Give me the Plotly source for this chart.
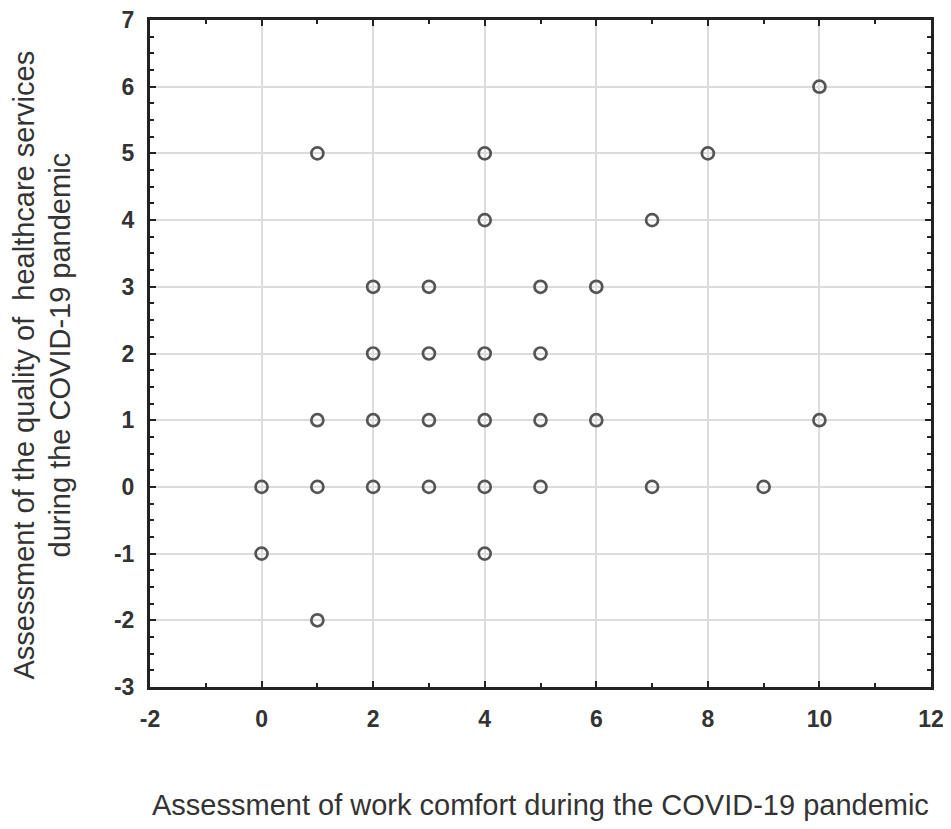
import plotly.graph_objects as go

x_comfort = [10, 1, 4, 8, 4, 7, 2, 3, 5, 6, 2, 3, 4, 5, 1, 2, 3, 4, 5, 6, 10,
             0, 1, 2, 3, 4, 5, 7, 9, 0, 4, 1]
y_quality = [6, 5, 5, 5, 4, 4, 3, 3, 3, 3, 2, 2, 2, 2, 1, 1, 1, 1, 1, 1, 1,
             0, 0, 0, 0, 0, 0, 0, 0, -1, -1, -2]

x_tick_vals = [-2, 0, 2, 4, 6, 8, 10, 12]
x_tick_text = ["-2", "0", "2", "4", "6", "8", "10", "12"]
y_tick_vals = [-3, -2, -1, 0, 1, 2, 3, 4, 5, 6, 7]
y_tick_text = ["-3", "-2", "-1", "0", "1", "2", "3", "4", "5", "6", "7"]

x_title = "Assessment of work comfort during the COVID-19 pandemic"
y_title_1 = "Assessment of the quality of  healthcare services"
y_title_2 = "during the COVID-19 pandemic"

FONT = "Liberation Sans, Arial, sans-serif"

fig = go.Figure()
fig.add_trace(go.Scatter(
    x=x_comfort, y=y_quality, mode="markers",
    marker=dict(symbol="circle-open", size=12, color="#555555",
                line=dict(width=2.7, color="#555555")),
    showlegend=False,
))

axis_common = dict(
    showline=True, linecolor="#222222", linewidth=3, mirror="allticks",
    ticks="inside", ticklen=6, tickwidth=2, tickcolor="#222222",
    showgrid=True, gridcolor="#dcdcdc", gridwidth=1.5, zeroline=False,
    automargin=False, ticklabeloverflow="allow",
    tickfont=dict(family=FONT, size=23, color="#333333", weight="bold"),
)

fig.update_layout(
    width=943, height=821,
    margin=dict(l=142, r=20, t=12, b=142, autoexpand=False),
    paper_bgcolor="white", plot_bgcolor="white",
    xaxis=dict(range=[-2, 12], tickmode="array", tickvals=x_tick_vals,
               ticktext=x_tick_text, ticklabelstandoff=9,
               minor=dict(ticks="inside", dtick=1, ticklen=4, tickwidth=2,
                          tickcolor="#222222", showgrid=False),
               **axis_common),
    yaxis=dict(range=[-3, 7], tickmode="array", tickvals=y_tick_vals,
               ticktext=y_tick_text, ticklabelstandoff=8,
               minor=dict(ticks="inside", dtick=0.25, ticklen=4, tickwidth=2,
                          tickcolor="#222222", showgrid=False),
               **axis_common),
    font=dict(family=FONT, color="#333333"),
)

fig.add_annotation(text=x_title, xref="paper", yref="paper", x=0.5, y=0,
                   yshift=-118, yanchor="middle", showarrow=False,
                   font=dict(size=29, color="#333333"))
fig.add_annotation(text=y_title_1, xref="paper", yref="paper", x=0, y=0.5,
                   xshift=-127, yshift=-12, xanchor="center", yanchor="middle",
                   textangle=-90, showarrow=False,
                   font=dict(size=29, color="#333333"))
fig.add_annotation(text=y_title_2, xref="paper", yref="paper", x=0, y=0.5,
                   xshift=-91, yshift=-2, xanchor="center", yanchor="middle",
                   textangle=-90, showarrow=False,
                   font=dict(size=29, color="#333333"))

fig.write_html("out.html")
